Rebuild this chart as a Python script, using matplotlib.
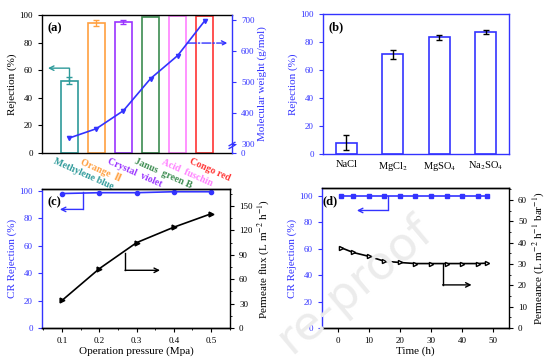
import matplotlib.pyplot as plt
from matplotlib.ticker import AutoMinorLocator

plt.rcParams['font.family'] = ['Liberation Serif', 'DejaVu Sans']
plt.rcParams['mathtext.fontset'] = 'stix'
plt.rcParams['axes.linewidth'] = 1.0
plt.rcParams['xtick.major.size'] = 3
plt.rcParams['ytick.major.size'] = 3
plt.rcParams['xtick.labelsize'] = 6.5
plt.rcParams['ytick.labelsize'] = 6.5

BLUE = '#3333ff'

# (a) dyes
dyes = ['Methylene blue', 'Orange  \u2161', 'Crystal  violet', 'Janus  green B', 'Acid  fuschin', 'Congo red']
dye_colors = ['#2e9a9a', '#ffa040', '#9933ff', '#3c8c50', '#ff80ff', '#ff3333']
dye_rej = [52.4, 94.2, 94.8, 98.9, 99.5, 99.5]
dye_err = [2.4, 2.2, 1.5, 0, 0, 0]
dye_mw = [320, 350, 408, 511, 585, 697]

# (b) salts
salts = ['NaCl', 'MgCl$_2$', 'MgSO$_4$', 'Na$_2$SO$_4$']
salt_rej = [8.1, 71.2, 83.3, 87.1]
salt_err = [5.4, 3.2, 2.0, 1.7]

# (c) pressure
pressure = [0.1, 0.2, 0.3, 0.4, 0.5]
cr_rej_p = [98.2, 98.8, 98.8, 99.5, 99.5]
flux = [34, 73, 105, 124, 140.5]

# (d) time
time_h = [1, 5, 10, 15, 20, 25, 30, 35, 40, 45, 48]
cr_rej_t = [100, 100, 100, 100, 100, 100, 100, 100, 100, 100, 100]
permeance = [37.7, 35.4, 33.6, 31.3, 30.7, 30.2, 30.2, 30.2, 30.2, 30.2, 30.4]


def corner_arrow(ax, pts, color, ls='-'):
    xs = [p[0] for p in pts]
    ys = [p[1] for p in pts]
    ax.plot(xs[:-1], ys[:-1], color=color, lw=1, ls=ls, clip_on=False)
    ax.annotate('', xy=pts[-1], xytext=pts[-2],
                arrowprops=dict(arrowstyle='->', color=color, lw=1, ls=ls,
                                shrinkA=0, shrinkB=0, mutation_scale=8))


fig = plt.figure(figsize=(5.54, 3.62), dpi=100)

# watermark
fig.text(0.64, 0.215, 're-proof', fontsize=34, color='#ececec', rotation=40,
         ha='center', va='center', family='DejaVu Sans', zorder=0)

# ---------------- (a)
ax = fig.add_axes([0.0758, 0.5773, 0.3430, 0.3812])
ax.patch.set_alpha(0)
x = range(len(dyes))
for i in x:
    ax.bar(i, dye_rej[i], width=0.62, fill=False, edgecolor=dye_colors[i], lw=1.2)
    if dye_err[i] > 0:
        ax.errorbar(i, dye_rej[i], yerr=dye_err[i], color=dye_colors[i], capsize=2, lw=1)
ax.set_xlim(-1, 6)
ax.set_ylim(0, 100)
ax.set_yticks(range(0, 101, 20))
ax.set_xticks([])
ax.spines['right'].set_visible(False)
ax.set_ylabel('Rejection (%)', fontsize=8, labelpad=2)
ax.text(0.03, 0.95, '(a)', transform=ax.transAxes, fontsize=9, fontweight='bold', va='top')
for i in x:
    ax.text(i - 0.5, -3, dyes[i], color=dye_colors[i], fontsize=7, fontweight='bold',
            rotation=-24, rotation_mode='anchor', ha='left', va='top', clip_on=False)
corner_arrow(ax, [(0, 53), (0, 61.5), (-0.78, 61.5)], dye_colors[0])

ax2 = ax.twinx()
ax2.patch.set_alpha(0)
ax2.plot(list(x), dye_mw, color=BLUE, marker='v', ms=3, lw=1.2)
ax2.set_ylim(272, 715)
ax2.set_yticks([272, 300, 400, 500, 600, 700])
ax2.set_yticklabels(['0', '300', '400', '500', '600', '700'])
for s in ['left', 'top', 'bottom']:
    ax2.spines[s].set_visible(False)
ax2.spines['right'].set_color(BLUE)
ax2.tick_params(axis='y', colors=BLUE)
ax2.set_ylabel('Molecular weight (g/mol)', color=BLUE, fontsize=8, labelpad=2)
for yb in [0.045, 0.065]:
    ax2.plot([0.985, 1.015], [yb - 0.012, yb + 0.012], transform=ax2.transAxes,
             color=BLUE, lw=1, clip_on=False)
corner_arrow(ax2, [(4.35, 625), (5.83, 625)], BLUE, ls='-.')

# ---------------- (b)
bx = fig.add_axes([0.5830, 0.5746, 0.3357, 0.3867])
bx.patch.set_alpha(0)
bx.bar(range(len(salts)), salt_rej, width=0.45, fill=False, edgecolor=BLUE, lw=1.2)
bx.errorbar(range(len(salts)), salt_rej, yerr=salt_err, fmt='none', ecolor='black', capsize=2, lw=1)
bx.set_xlim(-0.5, 3.5)
bx.set_ylim(0, 100)
bx.set_yticks(range(0, 101, 20))
bx.set_xticks(range(len(salts)))
bx.set_xticklabels(salts, fontsize=7.5)
bx.tick_params(axis='x', length=0, pad=4)
bx.tick_params(axis='y', colors=BLUE)
for s in bx.spines.values():
    s.set_color(BLUE)
bx.set_ylabel('Rejection (%)', color=BLUE, fontsize=8, labelpad=2)
bx.text(0.03, 0.95, '(b)', transform=bx.transAxes, fontsize=9, fontweight='bold', va='top')

# ---------------- (c)
cx = fig.add_axes([0.0758, 0.0939, 0.3394, 0.3840])
cx.patch.set_alpha(0)
cx.plot(pressure, cr_rej_p, color=BLUE, marker='o', ms=3, lw=1.2, clip_on=False, zorder=5)
cx.set_xlim(0.046, 0.551)
cx.set_ylim(0, 101.5)
cx.set_yticks(range(0, 101, 20))
cx.set_xticks(pressure)
cx.xaxis.set_minor_locator(AutoMinorLocator(2))
cx.tick_params(which='minor', length=1.5)
cx.spines['left'].set_color(BLUE)
cx.spines['right'].set_visible(False)
cx.tick_params(axis='y', colors=BLUE)
cx.set_ylabel('CR Rejection (%)', color=BLUE, fontsize=8, labelpad=2)
cx.set_xlabel('Operation pressure (Mpa)', fontsize=8, labelpad=1)
cx.text(0.03, 0.95, '(c)', transform=cx.transAxes, fontsize=9, fontweight='bold', va='top')
corner_arrow(cx, [(0.156, 99), (0.156, 86.6), (0.094, 86.6)], BLUE)

cx2 = cx.twinx()
cx2.patch.set_alpha(0)
cx2.plot(pressure, flux, color='black', marker='>', ms=3.5, lw=1.2)
cx2.set_ylim(0, 171)
cx2.set_yticks(range(0, 151, 30))
cx2.yaxis.set_minor_locator(AutoMinorLocator(2))
cx2.tick_params(which='minor', length=1.5)
cx2.spines['left'].set_visible(False)
cx2.set_ylabel('Permeate flux (L m$^{-2}$ h$^{-1}$)', fontsize=8, labelpad=2)
corner_arrow(cx2, [(0.269, 92), (0.269, 71), (0.363, 71)], 'black')

# ---------------- (d)
dx = fig.add_axes([0.5812, 0.0939, 0.3375, 0.3867])
dx.patch.set_alpha(0)
dx.plot(time_h, cr_rej_t, color=BLUE, marker='s', ms=2.5, lw=1.2)
dx.set_xlim(-5, 55)
dx.set_ylim(0, 106)
dx.set_yticks(range(0, 101, 20))
dx.set_xticks(range(0, 51, 10))
dx.spines['left'].set_color(BLUE)
dx.spines['right'].set_visible(False)
dx.tick_params(axis='y', colors=BLUE)
dx.set_ylabel('CR Rejection (%)', color=BLUE, fontsize=8, labelpad=2)
dx.set_xlabel('Time (h)', fontsize=8, labelpad=1)
dx.text(0.005, 0.95, '(d)', transform=dx.transAxes, fontsize=9, fontweight='bold', va='top')
corner_arrow(dx, [(16.1, 100), (16.1, 89), (6.2, 89)], BLUE)

dx2 = dx.twinx()
dx2.patch.set_alpha(0)
dx2.plot(time_h, permeance, color='black', marker='>', ms=3, mfc='white', lw=1.2)
dx2.set_ylim(0, 65.6)
dx2.set_yticks(range(0, 61, 10))
dx2.yaxis.set_minor_locator(AutoMinorLocator(2))
dx2.tick_params(which='minor', length=1.5)
dx2.spines['left'].set_visible(False)
dx2.set_ylabel('Permeance (L m$^{-2}$ h$^{-1}$ bar$^{-1}$)', fontsize=8, labelpad=2)
corner_arrow(dx2, [(33.7, 30.2), (33.7, 20.2), (43, 20.2)], 'black')

fig.savefig('out.png', dpi=100)
